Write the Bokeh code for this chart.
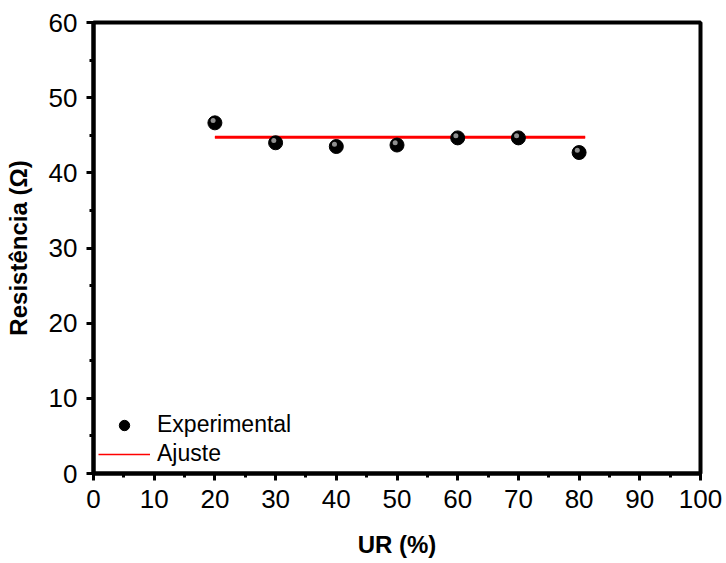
from bokeh.plotting import figure
from bokeh.models import (ColumnDataSource, Legend, LegendItem, FixedTicker,
                          Range1d, Dodge)
from bokeh.embed import file_html
from bokeh.resources import INLINE

ur = [20, 30, 40, 50, 60, 70, 80]
resist = [46.65, 44.0, 43.5, 43.7, 44.65, 44.65, 42.7]
fit_x = [20, 81]
fit_y = [44.75, 44.75]
x_ticks = [0, 10, 20, 30, 40, 50, 60, 70, 80, 90, 100]
y_ticks = [0, 10, 20, 30, 40, 50, 60]

FONT = "Liberation Sans"

p = figure(width=726, height=563, output_backend="svg", toolbar_location=None,
           x_range=Range1d(0, 100), y_range=Range1d(0, 60),
           min_border_left=93, min_border_right=26, min_border_top=22, min_border_bottom=90)
p.xgrid.visible = False
p.ygrid.visible = False
p.outline_line_color = "black"
p.outline_line_width = 4
p.background_fill_color = "white"
p.border_fill_color = "white"

src = ColumnDataSource(dict(x=ur, y=resist))
fit = ColumnDataSource(dict(x=fit_x, y=fit_y))

# thin copy used for the legend sample (hidden under the thicker line)
r_leg_line = p.line("x", "y", source=fit, line_color="#ff0000", line_width=1.5)
r_fit = p.line("x", "y", source=fit, line_color="#ff0000", line_width=3)
r_pts = p.scatter("x", "y", source=src, size=14, fill_color="black", line_color="black")
r_hi = p.scatter(x=dict(field="x", transform=Dodge(value=-0.3, range=p.x_range)),
                 y=dict(field="y", transform=Dodge(value=0.3, range=p.y_range)),
                 source=src, size=5, fill_color="#a8a8a8", line_color=None, fill_alpha=0.85)

for ax in (p.xaxis[0], p.yaxis[0]):
    ax.axis_line_width = 4
    ax.major_tick_line_width = 3
    ax.minor_tick_line_width = 3
    ax.major_tick_out = 7
    ax.major_tick_in = 0
    ax.minor_tick_out = 4
    ax.minor_tick_in = 0
    ax.major_label_text_font = FONT
    ax.major_label_text_font_size = "26px"
    ax.major_label_text_color = "black"
    ax.axis_label_text_font = FONT
    ax.axis_label_text_font_size = "24px"
    ax.axis_label_text_font_style = "bold"
    ax.axis_label_text_color = "black"

p.xaxis[0].ticker = FixedTicker(ticks=x_ticks, minor_ticks=[v + 5 for v in x_ticks[:-1]])
p.yaxis[0].ticker = FixedTicker(ticks=y_ticks, minor_ticks=[v + 5 for v in y_ticks[:-1]])
p.xaxis[0].axis_label = "UR (%)"
p.yaxis[0].axis_label = "Resistência (Ω)"
p.xaxis[0].major_label_standoff = 9
p.yaxis[0].major_label_standoff = 9
p.xaxis[0].axis_label_standoff = 20
p.yaxis[0].axis_label_standoff = 14

legend = Legend(items=[LegendItem(label="Experimental", renderers=[r_pts]),
                       LegendItem(label="Ajuste", renderers=[r_leg_line])],
                location=(5, 6), glyph_width=52, glyph_height=26, spacing=2,
                label_standoff=7, padding=0, margin=0,
                border_line_color=None, background_fill_alpha=0,
                label_text_font=FONT, label_text_font_size="23px",
                label_text_color="black", label_height=26)
p.add_layout(legend, "center")

open("out.html", "w").write(file_html(p, INLINE))
